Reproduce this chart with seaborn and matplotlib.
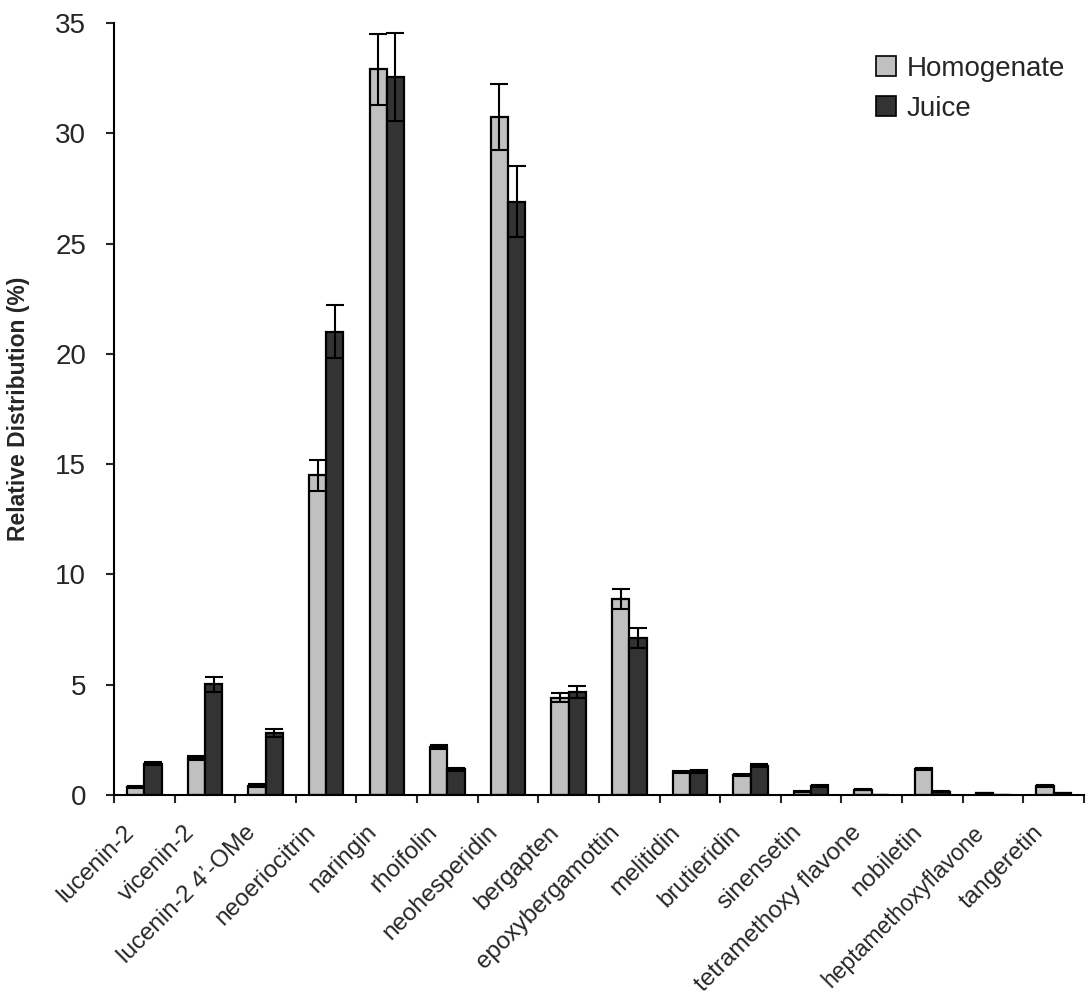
import matplotlib
matplotlib.use("Agg")
import matplotlib.pyplot as plt
import matplotlib.transforms as mtransforms
import seaborn as sns
import pandas as pd
import numpy as np
from matplotlib.patches import Patch

compounds = ["lucenin-2", "vicenin-2", "lucenin-2 4\u2019-OMe", "neoeriocitrin", "naringin",
             "rhoifolin", "neohesperidin", "bergapten", "epoxybergamottin", "melitidin",
             "brutieridin", "sinensetin", "tetramethoxy flavone", "nobiletin",
             "heptamethoxyflavone", "tangeretin"]
homogenate = [0.35, 1.68, 0.42, 14.5, 32.9, 2.18, 30.75, 4.42, 8.9, 1.04, 0.92, 0.15, 0.24, 1.18, 0.07, 0.40]
homogenate_err = [0.05, 0.08, 0.06, 0.7, 1.6, 0.08, 1.5, 0.22, 0.45, 0.05, 0.05, 0.03, 0.02, 0.06, 0.01, 0.05]
juice = [1.42, 5.02, 2.80, 21.0, 32.55, 1.17, 26.9, 4.67, 7.12, 1.08, 1.33, 0.42, 0.01, 0.15, 0.01, 0.07]
juice_err = [0.06, 0.35, 0.18, 1.2, 2.0, 0.07, 1.6, 0.27, 0.45, 0.06, 0.07, 0.05, 0.00, 0.02, 0.00, 0.01]
series = ["Homogenate", "Juice"]
colors = ["#C0C0C0", "#333333"]

df = pd.DataFrame({
    "compound": compounds * 2,
    "value": homogenate + juice,
    "err": homogenate_err + juice_err,
    "sample": [series[0]] * len(compounds) + [series[1]] * len(compounds),
})

sns.set_style("white")
plt.rcParams['font.family'] = ['Liberation Sans', 'DejaVu Sans']

fig = plt.figure(figsize=(10.91, 10.0), dpi=100)
ax = fig.add_axes([0.1045, 0.205, 0.889, 0.772])

sns.barplot(data=df, x="compound", y="value", hue="sample", order=compounds,
            hue_order=series, palette=colors, width=0.57, edgecolor="black",
            linewidth=1.6, errorbar=None, ax=ax, legend=False)

# error bars drawn at bar centres
bars = [p for p in ax.patches]
vals = homogenate + juice
errs = homogenate_err + juice_err
for p, v, e in zip(bars, vals, errs):
    xc = p.get_x() + p.get_width() / 2
    ax.errorbar(xc, v, yerr=e, fmt="none", ecolor="black", elinewidth=1.5,
                capsize=6.5, capthick=1.5, zorder=5)

ax.set_xlim(-0.5, len(compounds) - 0.5)
ax.set_ylim(0, 35)
ax.set_yticks(np.arange(0, 36, 5))
ax.tick_params(axis="y", labelsize=20, length=6, width=1.5, direction="out", left=True, pad=14)
ax.set_xticks(np.arange(len(compounds)))
ax.set_xticklabels(compounds, rotation=45, ha="right", va="top",
                   rotation_mode="anchor", fontsize=17.5)
ax.tick_params(axis="x", length=0, pad=0)
offset = mtransforms.ScaledTranslation(-21 / 100, -26 / 100, fig.dpi_scale_trans)
for lab in ax.get_xticklabels():
    lab.set_transform(lab.get_transform() + offset)
    if lab.get_text() == "heptamethoxyflavone":
        lab.set_fontsize(16.5)
ax.set_xticks(np.arange(-0.5, len(compounds), 1.0), minor=True)
ax.tick_params(axis="x", which="minor", length=6, width=1.5, direction="out", bottom=True)
ax.set_xlabel("")
ax.set_ylabel("Relative Distribution (%)", fontsize=16.5, fontweight="bold", labelpad=18)

for s in ["top", "right"]:
    ax.spines[s].set_visible(False)
for s in ["left", "bottom"]:
    ax.spines[s].set_color("black")
    ax.spines[s].set_linewidth(1.5)

handles = [Patch(facecolor=c, edgecolor="black", linewidth=1.2) for c in colors]
ax.legend(handles, series, loc="upper left", bbox_to_anchor=(0.76, 0.99), frameon=False,
          fontsize=20, handlelength=0.7, handleheight=0.7, handletextpad=0.4,
          labelspacing=0.5)

fig.savefig("out.png", dpi=100)
